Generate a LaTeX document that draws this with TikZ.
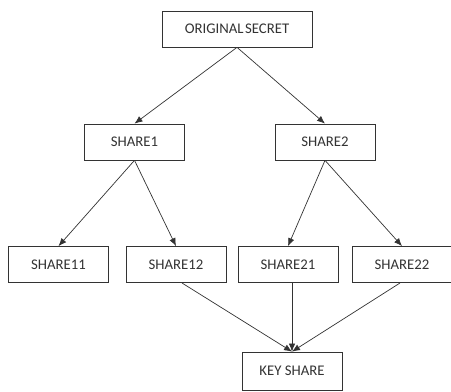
\documentclass[tikz,border=0pt]{standalone}
\usepackage{fontspec}
\setmainfont{Carlito}
\usetikzlibrary{arrows.meta}

\begin{document}
\begin{tikzpicture}[
  x=0.025cm, y=-0.025cm,
  font=\fontsize{10.5}{12}\selectfont,
  share/.style={draw=black!80, fill=white, line width=0.5pt, minimum width=2.5cm,
                minimum height=0.9cm, inner sep=2pt, text=black!80},
  split/.style={-{Latex[length=2mm,width=1.6mm]}, draw=black!80, line width=0.5pt},
]
\useasboundingbox (0,0) rectangle (451,392);

% The secret at the top, split in two shares.
\node[share, minimum width=3.75cm] (secret) at (237,29) {ORIGINAL\hspace{0.1em}SECRET};
\node[share] (s1) at (134.5,142) {SHARE1};
\node[share] (s2) at (325,142) {SHARE2};
\draw[split] (secret.south) -- (s1.north);
\draw[split] (secret.south) -- (s2.north);

% Each share split again.
\node[share] (s11) at (58.5,264.5) {SHARE11};
\node[share] (s12) at (176,264.5) {SHARE12};
\node[share] (s21) at (288,264.5) {SHARE21};
\node[share] (s22) at (402,264.5) {SHARE22};
\draw[split] (s1.south) -- (s11.north);
\draw[split] (s1.south) -- (s12.north);
\draw[split] (s2.south) -- (s21.north);
\draw[split] (s2.south) -- (s22.north);

% Three of the four shares give the key share.
\node[share, minimum height=0.95cm] (key) at (292,371) {KEY SHARE};
\coordinate (k12) at (182,283);
\coordinate (k22) at (400,283);
\draw[split] (k12) -- (key.north);
\draw[split] (s21.south -| key.north) -- (key.north);
\draw[split] (k22) -- (key.north);
\end{tikzpicture}
\end{document}
